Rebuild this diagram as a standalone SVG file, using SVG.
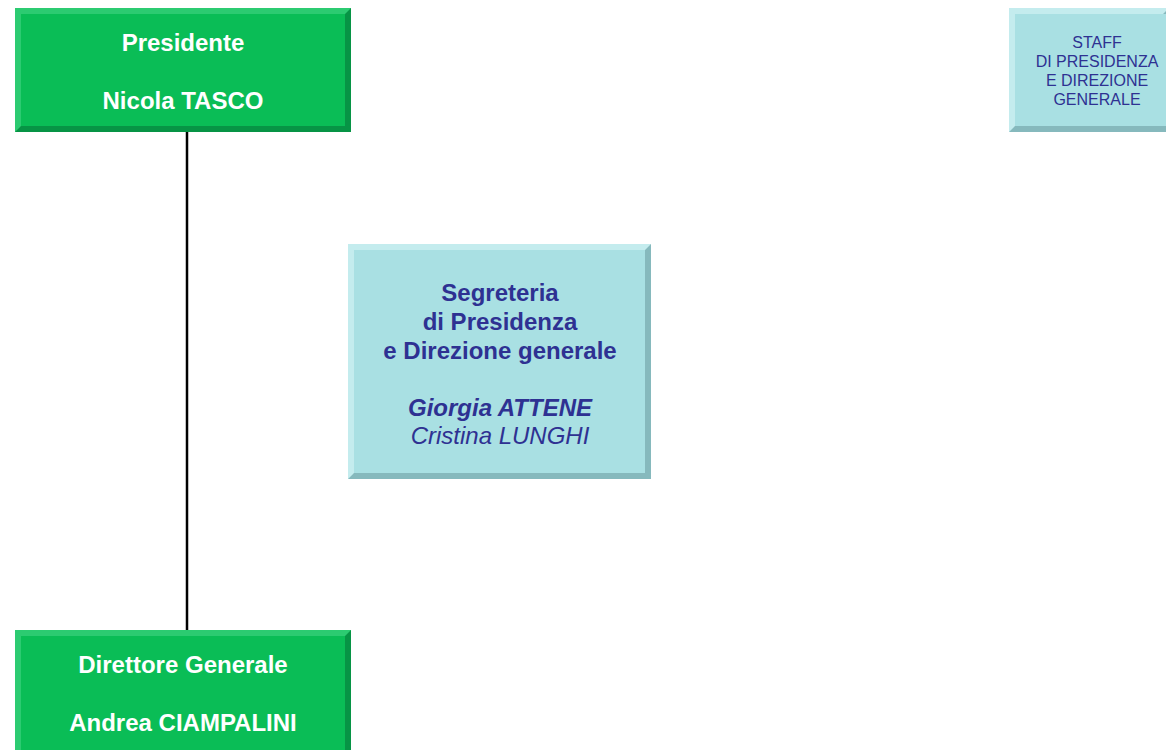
<svg xmlns="http://www.w3.org/2000/svg" width="1166" height="750" viewBox="0 0 1166 750">
<style>
.g{fill:#0abd56}
.gl{fill:#2ccb71}
.gd{fill:#079445}
.c{fill:#a9e0e3}
.cl{fill:#c4ecee}
.cd{fill:#86b9bd}
.wt{font-family:"Liberation Sans",Arial,sans-serif;font-weight:bold;font-size:24px;fill:#ffffff;text-anchor:middle}
.bt{font-family:"Liberation Sans",Arial,sans-serif;font-size:24px;fill:#2e3192;text-anchor:middle}
.st{font-family:"Liberation Sans",Arial,sans-serif;font-size:16px;fill:#2e3192;text-anchor:middle}
</style>
<rect width="1166" height="750" fill="#ffffff"/>
<g id="connectors">
<line x1="187" y1="132" x2="187" y2="631" stroke="#000" stroke-width="2.5"/>
</g>
<g id="presidente">
<rect class="gd" x="15" y="8" width="336" height="124"/>
<polygon class="gl" points="15,8 351,8 345,14 21,14 21,126 15,132"/>
<rect class="g" x="21" y="14" width="324" height="112"/>
<text class="wt" x="183" y="51">Presidente</text>
<text class="wt" x="183" y="109">Nicola TASCO</text>
</g>
<g id="staff">
<rect class="cd" x="1009" y="8" width="160" height="124"/>
<polygon class="cl" points="1009,8 1169,8 1163,14 1015,14 1015,126 1009,132"/>
<rect class="c" x="1015" y="14" width="154" height="112"/>
<text class="st" x="1097" y="48">STAFF</text>
<text class="st" x="1097" y="67">DI PRESIDENZA</text>
<text class="st" x="1097" y="86">E DIREZIONE</text>
<text class="st" x="1097" y="105">GENERALE</text>
</g>
<g id="segreteria">
<rect class="cd" x="348" y="244" width="303" height="235"/>
<polygon class="cl" points="348,244 651,244 645,250 354,250 354,473 348,479"/>
<rect class="c" x="354" y="250" width="291" height="223"/>
<text class="bt" x="500" y="301" font-weight="bold">Segreteria</text>
<text class="bt" x="500" y="330" font-weight="bold">di Presidenza</text>
<text class="bt" x="500" y="359" font-weight="bold">e Direzione generale</text>
<text class="bt" x="500" y="416" font-weight="bold" font-style="italic">Giorgia ATTENE</text>
<text class="bt" x="500" y="444" font-style="italic">Cristina LUNGHI</text>
</g>
<g id="direttore">
<rect class="gd" x="15" y="630" width="336" height="126"/>
<polygon class="gl" points="15,630 351,630 345,636 21,636 21,756 15,756"/>
<rect class="g" x="21" y="636" width="324" height="120"/>
<text class="wt" x="183" y="673">Direttore Generale</text>
<text class="wt" x="183" y="731">Andrea CIAMPALINI</text>
</g>
</svg>
